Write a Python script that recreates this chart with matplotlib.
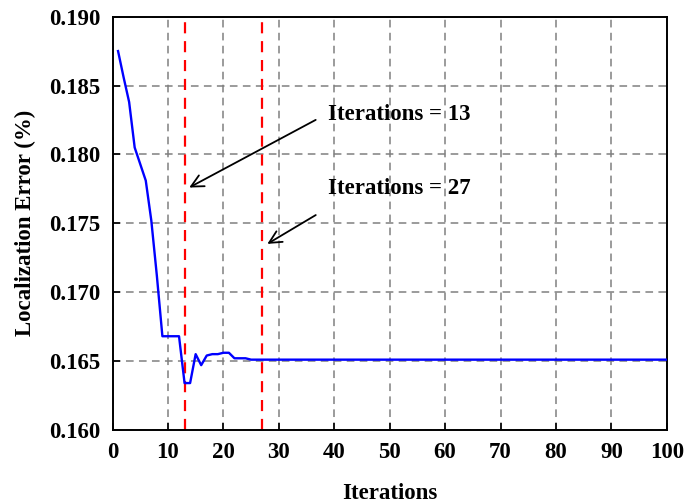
import matplotlib
matplotlib.use("Agg")
import matplotlib.pyplot as plt

plt.rcParams["font.family"] = ["Liberation Serif", "DejaVu Serif"]
plt.rcParams["font.weight"] = "bold"

iterations = list(range(1, 101))
error = [
    0.1875, 0.1856, 0.1838, 0.1805, 0.1793, 0.1781, 0.1752, 0.1712, 0.1668, 0.1668,
    0.1668, 0.1668, 0.1634, 0.1634, 0.1655, 0.1647, 0.1654, 0.1655, 0.1655, 0.1656,
    0.1656, 0.1652, 0.1652, 0.1652, 0.1651, 0.1651, 0.1651, 0.1651, 0.1651, 0.1651,
    0.1651, 0.1651, 0.1651, 0.1651, 0.1651, 0.1651, 0.1651, 0.1651, 0.1651, 0.1651,
    0.1651, 0.1651, 0.1651, 0.1651, 0.1651, 0.1651, 0.1651, 0.1651, 0.1651, 0.1651,
    0.1651, 0.1651, 0.1651, 0.1651, 0.1651, 0.1651, 0.1651, 0.1651, 0.1651, 0.1651,
    0.1651, 0.1651, 0.1651, 0.1651, 0.1651, 0.1651, 0.1651, 0.1651, 0.1651, 0.1651,
    0.1651, 0.1651, 0.1651, 0.1651, 0.1651, 0.1651, 0.1651, 0.1651, 0.1651, 0.1651,
    0.1651, 0.1651, 0.1651, 0.1651, 0.1651, 0.1651, 0.1651, 0.1651, 0.1651, 0.1651,
    0.1651, 0.1651, 0.1651, 0.1651, 0.1651, 0.1651, 0.1651, 0.1651, 0.1651, 0.1651,
]
marks = [13, 27]
labels = ["Iterations = 13", "Iterations = 27"]
text_pos = [(38.8, 0.1829), (38.8, 0.1775)]
arrow_tail = [(37.1, 0.1826), (37.1, 0.1757)]
arrow_head = [(13.4, 0.1775), (27.5, 0.1734)]

fs = 16.5

fig = plt.figure(figsize=(6.86, 5.04), dpi=100)
ax = fig.add_axes([0.164, 0.147, 0.808, 0.820])

ax.grid(True, color="#808080", linestyle=(0, (5, 3.5)), linewidth=1.1)
ax.set_axisbelow(True)

for m in marks:
    ax.axvline(m, color="red", linestyle=(0, (5, 3.5)), linewidth=1.6, zorder=2)

ax.plot(iterations, error, color="blue", linewidth=1.7, zorder=3)

for lab, tp, tail, head in zip(labels, text_pos, arrow_tail, arrow_head):
    ax.annotate("", xy=head, xytext=tail,
                arrowprops=dict(arrowstyle="->", color="black", lw=1.3,
                                mutation_scale=22))
    ax.text(tp[0], tp[1], lab, fontsize=fs, fontweight="bold", va="center", ha="left")

ax.set_xlim(0, 100)
ax.set_ylim(0.160, 0.190)
ax.set_xticks(range(0, 101, 10))
ax.set_yticks([0.160, 0.165, 0.170, 0.175, 0.180, 0.185, 0.190])
ax.set_yticklabels([f"{v:.3f}" for v in ax.get_yticks()])
ax.tick_params(axis="x", direction="in", length=5, width=1.2, labelsize=fs, pad=9)
ax.tick_params(axis="y", direction="in", length=5, width=1.2, labelsize=fs, pad=9)
for lbl in ax.get_xticklabels() + ax.get_yticklabels():
    lbl.set_fontweight("bold")
for s in ax.spines.values():
    s.set_linewidth(1.4)

ax.set_xlabel("Iterations", fontsize=fs, fontweight="bold", labelpad=14)
ax.set_ylabel("Localization Error (%)", fontsize=fs, fontweight="bold", labelpad=9)

fig.savefig("out.png", dpi=100)
